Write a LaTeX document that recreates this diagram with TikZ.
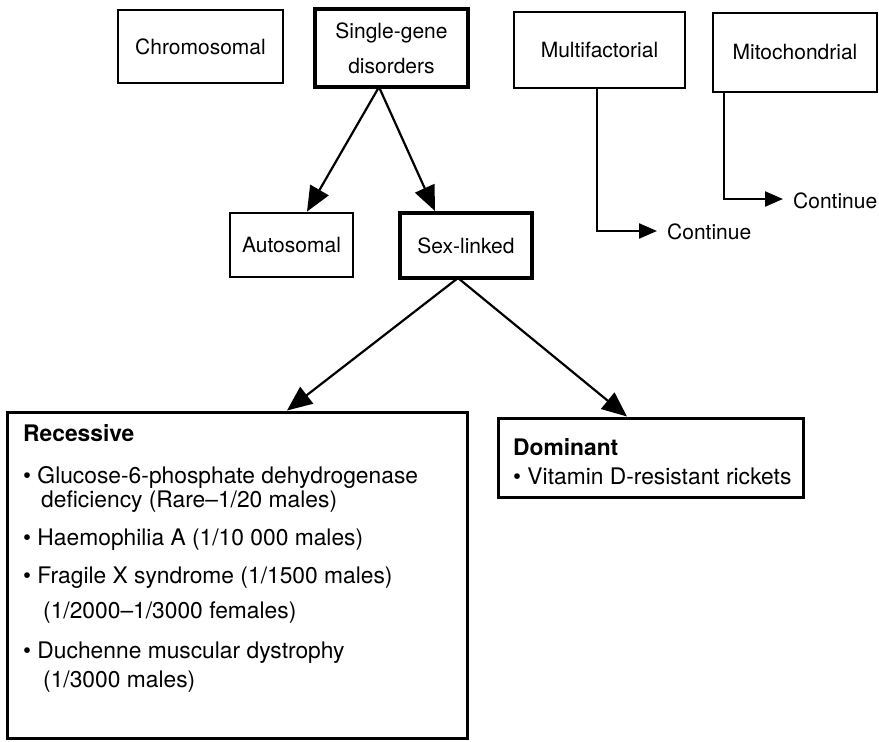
\documentclass[tikz,border=0pt]{standalone}
\usepackage{fontspec}
\setmainfont{TeX Gyre Heros}
\usetikzlibrary{arrows.meta}
\begin{document}
\begin{tikzpicture}[x=1pt,y=-1pt,
  box/.style={draw, line width=2.8pt, inner sep=0pt, align=center,
    font=\fontsize{21}{35}\selectfont},
  thickbox/.style={box, line width=4pt},
  txt/.style={anchor=base west, inner sep=0pt, font=\fontsize{22.8}{27}\selectfont},
  head/.style={txt, font=\fontsize{22.8}{27}\selectfont\bfseries},
  ctext/.style={anchor=west, inner sep=0pt, font=\fontsize{21}{25}\selectfont},
  arr/.style={line width=2.2pt, -{Triangle[length=25pt,width=21pt]}},
  carr/.style={line width=2.2pt, -{Triangle[length=18pt,width=15pt]}}]
\useasboundingbox (0,0) rectangle (879,742);

% top row
\node[box, minimum width=165pt, minimum height=73pt] (chr) at (200.5,46.5) {Chromosomal};
\node[thickbox, minimum width=153pt, minimum height=78pt] (sg) at (391.5,48) {Single-gene\\disorders};
\node[box, minimum width=171pt, minimum height=76pt] (mf) at (599.5,50) {Multifactorial};
\node[box, minimum width=164pt, minimum height=79pt] (mt) at (795,52.5) {Mitochondrial};

% second row
\node[box, minimum width=123pt, minimum height=64pt] (aut) at (291.5,245) {Autosomal};
\node[thickbox, minimum width=132pt, minimum height=65pt] (sex) at (466,245.5) {Sex-linked};

% bottom boxes
\node[draw, line width=3pt, minimum width=460pt, minimum height=326pt, inner sep=0pt] (rec) at (237,575) {};
\node[draw, line width=3pt, minimum width=305pt, minimum height=79pt, inner sep=0pt] (dom) at (650.5,457.5) {};

% recessive text
\node[head] (rech) at (23,441) {Recessive};
\node[txt] (r1) at (23,483) {• Glucose-6-phosphate dehydrogenase};
\node[txt] (r1b) at (41,507) {deficiency (Rare–1/20 males)};
\node[txt] (r2) at (23,545) {• Haemophilia A (1/10 000 males)};
\node[txt] (r3) at (23,583) {• Fragile X syndrome (1/1500 males)};
\node[txt] (r3b) at (43,618) {(1/2000–1/3000 females)};
\node[txt] (r4) at (23,658) {• Duchenne muscular dystrophy};
\node[txt] (r4b) at (43,687) {(1/3000 males)};

% dominant text
\node[head] (domh) at (513,455) {Dominant};
\node[txt] (d1) at (513,484) {• Vitamin D-resistant rickets};

% connectors
\coordinate (sgb) at (379,87);
\coordinate (sexb) at (458,278);
\draw[arr] (sgb) -- (aut.north -| 307,0);
\draw[arr] (sgb) -- (sex.north -| 435,0);
\draw[arr] (sexb) -- (rec.north -| 287,0);
\draw[arr] (sexb) -- (dom.north -| 627,0);

\coordinate (mfc) at (597,231);
\coordinate (mfe) at (657,231);
\node[ctext] (mfcont) at (667,232) {Continue};
\draw[carr] (mf.south -| mfc) -- (mfc) -- (mfe);

\coordinate (mtc) at (724,199);
\coordinate (mte) at (783,199);
\node[ctext] (mtcont) at (793,201) {Continue};
\draw[carr] (mt.south -| mtc) -- (mtc) -- (mte);
\end{tikzpicture}
\end{document}
